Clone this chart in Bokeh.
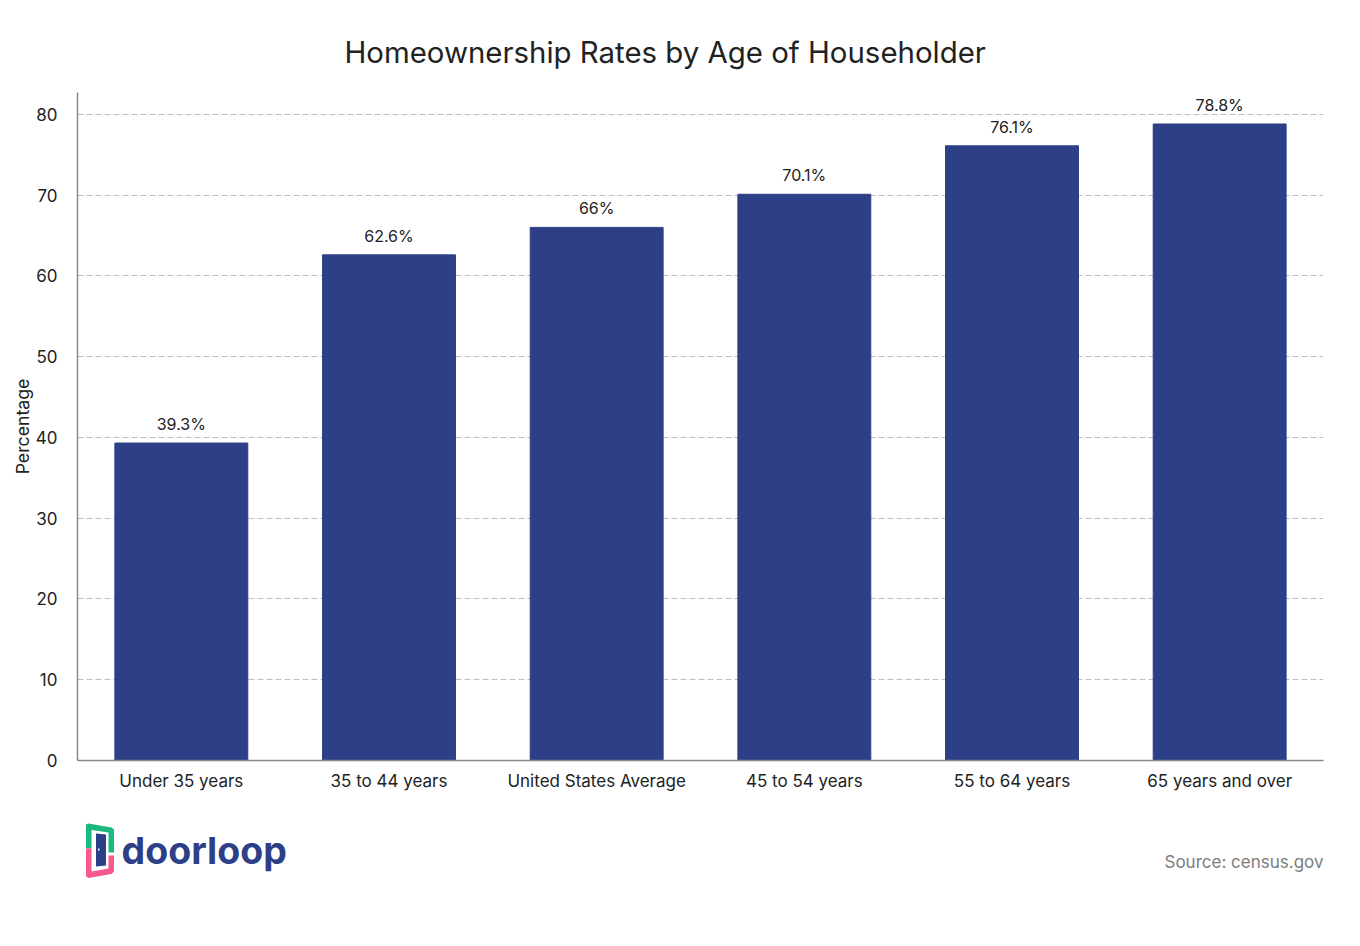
from bokeh.plotting import figure
from bokeh.layouts import column
from bokeh.core.properties import value
from bokeh.models import ColumnDataSource, LabelSet, Range1d, FactorRange, Title
from bokeh.embed import file_html
from bokeh.resources import INLINE

categories = ["Under 35 years", "35 to 44 years", "United States Average",
              "45 to 54 years", "55 to 64 years", "65 years and over"]
rates = [39.3, 62.6, 66, 70.1, 76.1, 78.8]
rate_labels = ["39.3%", "62.6%", "66%", "70.1%", "76.1%", "78.8%"]
y_ticks = [0, 10, 20, 30, 40, 50, 60, 70, 80]

FONT = "Inter"
W = 1350
NAVY = "#2d3f87"
INK = "#222222"

src = ColumnDataSource(dict(cat=categories, val=rates, lab=rate_labels))

xr = FactorRange(factors=categories, range_padding=0)
p = figure(width=W, height=796, x_range=xr, y_range=Range1d(0, 82.7),
           output_backend="svg", toolbar_location=None,
           min_border_left=77, min_border_right=W - 1323, min_border_top=92, min_border_bottom=36,
           background_fill_color="white", border_fill_color="white", outline_line_color=None)

p.title = Title(text="Homeownership Rates by Age of Householder", align="left", offset=267,
                text_font=FONT, text_font_size="29.4px", text_font_style="normal",
                text_color=INK, standoff=46)

p.vbar(x="cat", top="val", width=0.64, source=src, fill_color=NAVY, line_color=NAVY, line_width=1)

p.add_layout(LabelSet(x="cat", y="val", text="lab", source=src, text_align="center",
                      text_baseline="bottom", y_offset=9, text_font=value(FONT),
                      text_font_size=value("16px"), text_color=INK))

p.xgrid.grid_line_color = None
p.ygrid.grid_line_color = "#bdbdbd"
p.ygrid.grid_line_dash = [6, 3]
p.ygrid.grid_line_width = 1
p.yaxis.ticker = y_ticks
p.yaxis.axis_label = "Percentage"
for ax in (p.xaxis[0], p.yaxis[0]):
    ax.axis_line_color = "#8a8a8a"
    ax.axis_line_width = 1.5
    ax.major_tick_line_color = None
    ax.minor_tick_line_color = None
    ax.major_tick_out = 0
    ax.major_tick_in = 0
    ax.major_label_text_font = FONT
    ax.major_label_text_font_size = "17px"
    ax.major_label_text_color = INK
    ax.axis_label_text_font = FONT
    ax.axis_label_text_font_size = "17.7px"
    ax.axis_label_text_font_style = "normal"
    ax.axis_label_text_color = INK
p.xaxis.major_label_standoff = 10
p.yaxis.major_label_standoff = 20
p.yaxis.axis_label_standoff = 0

# footer strip: its data units are page pixels, for the logo and the source note
strip = figure(width=W, height=144, x_range=Range1d(77, 1323), y_range=Range1d(940, 796),
               output_backend="svg", toolbar_location=None, min_border=0,
               background_fill_color="white", border_fill_color="white", outline_line_color=None)
strip.axis.visible = False
strip.grid.visible = False

strip.text(x=[1323], y=[861], text=["Source: census.gov"], text_align="right", text_baseline="middle",
           text_font=value(FONT), text_font_size=value("17px"), text_color="#7d7d7d")
strip.text(x=[121], y=[850], text=["doorloop"], text_align="left", text_baseline="middle",
           text_font=value(FONT), text_font_size=value("37.5px"), text_font_style="bold", text_color=NAVY)

logo_green = [(85.5, 824), (88, 823), (111, 827), (113.5, 829), (113.5, 852), (108, 852), (108, 832),
              (91, 829.5), (91, 848), (85.5, 848)]
logo_pink = [(85.5, 848), (91, 848), (91, 871), (108, 868), (108, 855), (113.5, 855), (113.5, 871),
             (111, 873.5), (88, 877.5), (85.5, 876)]
logo_door = [(95.5, 833), (105.5, 834), (105.5, 865), (95.5, 866)]
logo_knob = [(97.5, 848), (99, 848), (99, 850), (97.5, 850)]
for pts, col in ((logo_green, "#1cb87e"), (logo_pink, "#f7598f"), (logo_door, NAVY), (logo_knob, "#ffffff")):
    strip.patch([a for a, _ in pts], [b for _, b in pts], fill_color=col, line_color=None)

open("out.html", "w").write(file_html(column(p, strip, spacing=0), INLINE))
